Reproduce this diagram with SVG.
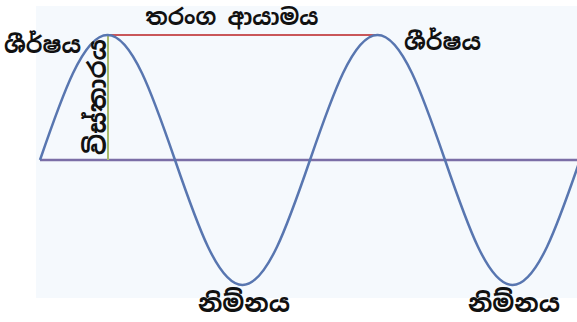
<svg xmlns="http://www.w3.org/2000/svg" width="577" height="322" viewBox="0 0 577 322">
<style>
.lbl{font-family:"Noto Sans Sinhala","Iskoola Pota","Noto Sans","DejaVu Sans",sans-serif;font-weight:bold;fill:#111;}
.pk{font-size:23px;}
.wl{font-size:22.5px;}
.am{font-size:25px;}
.tr{font-size:25px;}
</style>
<rect width="577" height="322" fill="#ffffff"/>
<rect x="36" y="6" width="541" height="292" fill="#f5f9fd"/>
<g id="connectors">
<line id="baseline" x1="40" y1="160" x2="577" y2="160" stroke="#7b6ea6" stroke-width="2.5"/>
<line id="wavelength-line" x1="108" y1="35" x2="380" y2="35" stroke="#c9575a" stroke-width="2"/>
<line id="amplitude-line" x1="108" y1="35" x2="108" y2="160" stroke="#a9ba6a" stroke-width="2"/>
<path id="wave" fill="none" stroke="#5876b0" stroke-width="2.5" d="M40,160 C62.01,95.96 83.07,35 107.5,35 C131.93,35 152.99,95.96 175,160 C197.01,224.04 218.07,285 242.5,285 C266.93,285 287.99,224.04 310,160 C332.01,95.96 353.07,35 377.5,35 C401.93,35 422.99,95.96 445,160 C467.01,224.04 488.07,285 512.5,285 C536.93,285 557.99,224.04 580,160"/>
</g>
<g id="peak-left"><text class="lbl pk" x="4" y="53">ශීර්ෂය</text></g>
<g id="peak-right"><text class="lbl pk" x="404" y="50">ශීර්ෂය</text></g>
<g id="wavelength"><text class="lbl wl" x="232" y="25" text-anchor="middle">තරංග ආයාමය</text></g>
<g id="amplitude"><text class="lbl am" transform="translate(106,97) rotate(-90)" text-anchor="middle">විස්තාරය</text></g>
<g id="trough-left"><text class="lbl tr" x="244" y="312" text-anchor="middle">නිම්නය</text></g>
<g id="trough-right"><text class="lbl tr" x="514" y="312" text-anchor="middle">නිම්නය</text></g>
</svg>
